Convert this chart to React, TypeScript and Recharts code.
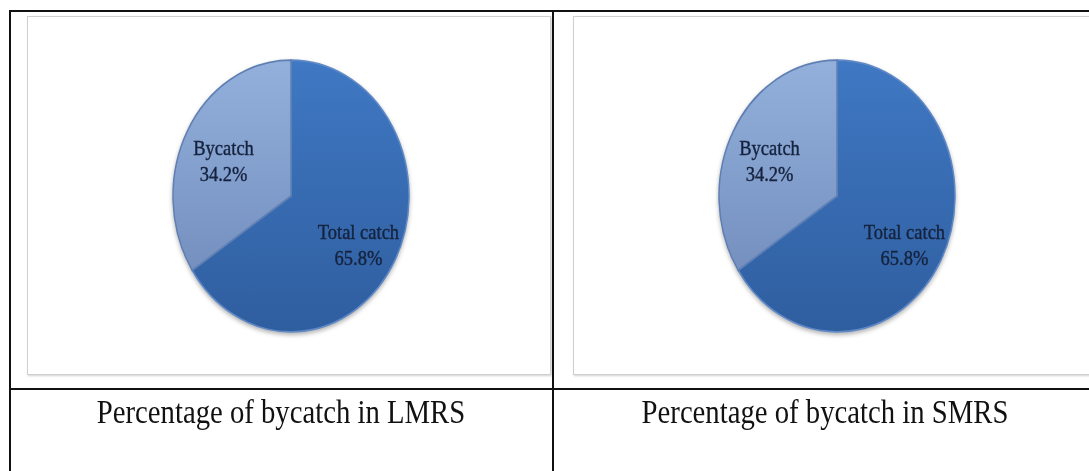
import { Cell, Pie, PieChart } from 'recharts'

const categories = ['Total catch', 'Bycatch']
const lmrsShares = [65.8, 34.2]
const smrsShares = [65.8, 34.2]
const captions = ['Percentage of bycatch in LMRS', 'Percentage of bycatch in SMRS']

const serif = '"Liberation Serif", "Times New Roman", serif'

const RAD = Math.PI / 180

function renderLabel(p: any) {
  const r = p.outerRadius * 0.65
  const x = p.cx + r * Math.cos(-p.midAngle * RAD)
  const y = p.cy + r * Math.sin(-p.midAngle * RAD)
  return (
    <text
      x={x}
      y={y}
      textAnchor="middle"
      fill="#15233f"
      stroke="#15233f"
      strokeWidth={0.35}
      fontSize={18.5}
      fontFamily={serif}
    >
      <tspan x={x} dy="0.05em">{p.name}</tspan>
      <tspan x={x} dy="1.22em">{p.value.toFixed(1)}%</tspan>
    </text>
  )
}

function BycatchPie({ shares, id, left }: { shares: number[]; id: string; left: number }) {
  const data = categories.map((name, i) => ({ name, value: shares[i] }))
  return (
    <div
      style={{
        position: 'absolute',
        left,
        top: 76,
        width: 240,
        height: 240,
        transform: 'scaleY(1.151)',
        transformOrigin: '50% 50%',
        filter: 'drop-shadow(0px 2px 2px rgba(0,0,0,0.3))',
      }}
    >
      <PieChart width={240} height={240} margin={{ top: 0, right: 0, bottom: 0, left: 0 }}>
        <defs>
          <linearGradient id={`${id}-total`} x1="0" y1="0" x2="0" y2="1">
            <stop offset="0%" stopColor="#3f78c3" />
            <stop offset="100%" stopColor="#2f5e9f" />
          </linearGradient>
          <linearGradient id={`${id}-by`} x1="0" y1="0" x2="0" y2="1">
            <stop offset="0%" stopColor="#93b0dc" />
            <stop offset="100%" stopColor="#7590bf" />
          </linearGradient>
        </defs>
        <Pie
          data={data}
          dataKey="value"
          nameKey="name"
          cx={120}
          cy={120}
          outerRadius={118}
          startAngle={90}
          endAngle={-270}
          label={renderLabel}
          labelLine={false}
          isAnimationActive={false}
        >
          <Cell fill={`url(#${id}-total)`} stroke="#5f88c6" strokeWidth={1.5} />
          <Cell fill={`url(#${id}-by)`} stroke="#5f7fb3" strokeWidth={1.5} />
        </Pie>
      </PieChart>
    </div>
  )
}

const frame = {
  position: 'absolute' as const,
  top: 16,
  width: 522,
  height: 357,
  border: '1.5px solid #cfcfcf',
  boxShadow: '1px 1px 2px rgba(0,0,0,0.18)',
  background: '#fff',
}

const line = { position: 'absolute' as const, background: '#111' }

export default function App() {
  return (
    <div
      style={{
        position: 'absolute',
        left: 0,
        top: 0,
        width: 1089,
        height: 471,
        overflow: 'hidden',
        background: '#fff',
      }}
    >
      <div style={{ ...line, left: 9, top: 10, width: 1100, height: 2 }} />
      <div style={{ ...line, left: 9, top: 10, width: 1.5, height: 470 }} />
      <div style={{ ...line, left: 552, top: 10, width: 1.5, height: 470 }} />
      <div style={{ ...line, left: 9, top: 388, width: 1100, height: 1.5 }} />

      <div style={{ ...frame, left: 27 }} />
      <div style={{ ...frame, left: 573 }} />

      <BycatchPie shares={lmrsShares} id="lmrs" left={171} />
      <BycatchPie shares={smrsShares} id="smrs" left={717} />

      {captions.map((c, i) => (
        <div
          key={c}
          style={{
            position: 'absolute',
            left: i === 0 ? 9 : 553,
            top: 393,
            width: 544,
            textAlign: 'center',
            fontFamily: serif,
            fontSize: 33,
            lineHeight: '38px',
            color: '#111',
            transform: 'scaleX(0.87)',
            transformOrigin: '50% 50%',
            whiteSpace: 'nowrap',
          }}
        >
          {c}
        </div>
      ))}
    </div>
  )
}
